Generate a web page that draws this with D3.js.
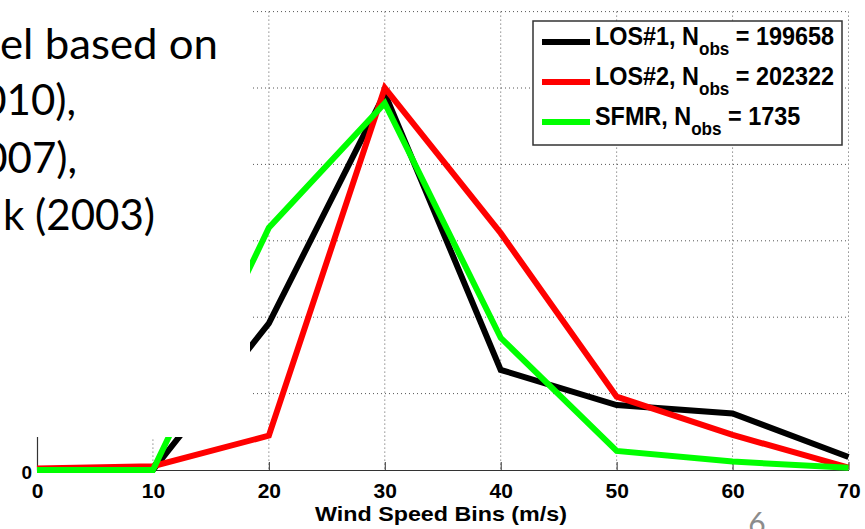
<!DOCTYPE html>
<html>
<head>
<meta charset="utf-8">
<script src="https://cdn.jsdelivr.net/npm/d3@7"></script>
<style>
  html, body { margin: 0; padding: 0; background: #fff; }
  svg { display: block; }
</style>
</head>
<body>
<svg id="chart" width="865" height="529"></svg>
<script>
// ---- data ----
const bins = [0, 10, 20, 30, 40, 50, 60, 70];
const los1 = [0, 0, 1.92, 4.93, 1.31, 0.85, 0.74, 0.17];
const los2 = [0.02, 0.05, 0.45, 5.0, 3.10, 0.96, 0.46, 0.03];
const sfmr = [0, 0, 3.17, 4.80, 1.73, 0.25, 0.11, 0.03];
const seriesNames = ["LOS#1", "LOS#2", "SFMR"];
const seriesN = ["199658", "202322", "1735"];
const xTicks = [0, 10, 20, 30, 40, 50, 60, 70];
const yGrid = [1, 2, 3, 4, 5, 6];
const yTicks = [0];
const xLabel = "Wind Speed Bins (m/s)";
const slideLines = ["el based on", "010),", "007),", "k (2003)"];
const pageNumber = "6";

const colors = ["#000000", "#ff0000", "#00ff00"];
const allSeries = [los1, los2, sfmr];

const svg = d3.select("#chart");
svg.append("rect").attr("width", 865).attr("height", 529).attr("fill", "#fff");

const x = d3.scaleLinear().domain([0, 70]).range([37, 848.5]);
const y = d3.scaleLinear().domain([0, 6]).range([470, 11.6]);

// grid
const grid = svg.append("g").attr("stroke", "#555").attr("stroke-width", 1)
  .attr("stroke-dasharray", "1,3").attr("fill", "none");
xTicks.filter(d => d > 0).forEach(d => {
  grid.append("line").attr("x1", x(d)).attr("x2", x(d))
    .attr("y1", y(6)).attr("y2", y(0));
});
yGrid.forEach(d => {
  grid.append("line").attr("x1", x(0)).attr("x2", x(70))
    .attr("y1", y(d)).attr("y2", y(d));
});

// axes
const xAxis = d3.axisBottom(x).tickValues(xTicks).tickFormat(d3.format("d"))
  .tickSizeInner(-8).tickSizeOuter(0).tickPadding(13);
const gx = svg.append("g").attr("transform", `translate(0,${y(0)})`).call(xAxis);
gx.select(".domain").attr("stroke", "#333").attr("stroke-width", 1.2);
gx.selectAll(".tick line").attr("stroke", "#333");
gx.selectAll(".tick text").attr("fill", "#000")
  .style("font-family", "'Liberation Sans', Arial, sans-serif")
  .style("font-weight", "bold").style("font-size", "21px");

const yAxis = d3.axisLeft(y).tickValues(yTicks).tickFormat(d3.format("d"))
  .tickSizeInner(-8).tickSizeOuter(0).tickPadding(5);
const gy = svg.append("g").attr("transform", `translate(${x(0)},0)`).call(yAxis);
gy.select(".domain").attr("stroke", "#333").attr("stroke-width", 1.2);
gy.selectAll(".tick line").attr("stroke", "#333");
gy.selectAll(".tick text").attr("fill", "#000").attr("dy", "0.45em")
  .style("font-family", "'Liberation Sans', Arial, sans-serif")
  .style("font-weight", "bold").style("font-size", "19px");

// lines
const line = d3.line().x((d, i) => x(bins[i])).y(d => y(d));
allSeries.forEach((s, i) => {
  svg.append("path").datum(s).attr("d", line)
    .attr("fill", "none").attr("stroke", colors[i])
    .attr("stroke-width", 6).attr("stroke-linejoin", "miter");
});

// x label
svg.append("text").attr("x", 441).attr("y", 521).attr("text-anchor", "middle")
  .attr("textLength", 252).attr("lengthAdjust", "spacingAndGlyphs")
  .style("font-family", "'Liberation Sans', Arial, sans-serif")
  .style("font-weight", "bold").style("font-size", "21px").text(xLabel);

// legend
const lg = svg.append("g");
lg.append("rect").attr("x", 533).attr("y", 21).attr("width", 309).attr("height", 124)
  .attr("fill", "#fff").attr("stroke", "#333").attr("stroke-width", 1.5);
seriesNames.forEach((name, i) => {
  const base = 45 + i * 40;
  lg.append("line").attr("x1", 542).attr("x2", 590)
    .attr("y1", base - 3).attr("y2", base - 3)
    .attr("stroke", colors[i]).attr("stroke-width", 6);
  const t = lg.append("text")
    .attr("transform", `translate(595,${base}) scale(0.9,1)`)
    .style("font-family", "'Liberation Sans', Arial, sans-serif")
    .style("font-weight", "bold").style("font-size", "26px");
  t.append("tspan").text(name + ", N");
  t.append("tspan").attr("dy", 10).style("font-size", "19px").text("obs");
  t.append("tspan").attr("dy", -10).text(" = " + seriesN[i]);
});

// slide text box covering part of the chart
svg.append("rect").attr("x", 0).attr("y", 0).attr("width", 250).attr("height", 437)
  .attr("fill", "#fff");
const ends = [218, 76, 77, 155];
const baselines = [59, 115, 173, 230];
slideLines.forEach((s, i) => {
  const t = svg.append("text").attr("x", ends[i]).attr("y", baselines[i])
    .attr("text-anchor", "end").attr("fill", "#000")
    .style("font-family", "Lato, 'Open Sans', sans-serif")
    .style("font-size", "42px").text(s);
  if (i === 0) {
    t.attr("x", 0).attr("text-anchor", "start")
      .attr("textLength", 218).attr("lengthAdjust", "spacingAndGlyphs");
  }
});

// page number
svg.append("text").attr("x", 757).attr("y", 534).attr("text-anchor", "middle")
  .attr("fill", "#8c8c8c").style("font-family", "Lato, 'Open Sans', sans-serif")
  .style("font-size", "30px").text(pageNumber);
</script>
</body>
</html>
